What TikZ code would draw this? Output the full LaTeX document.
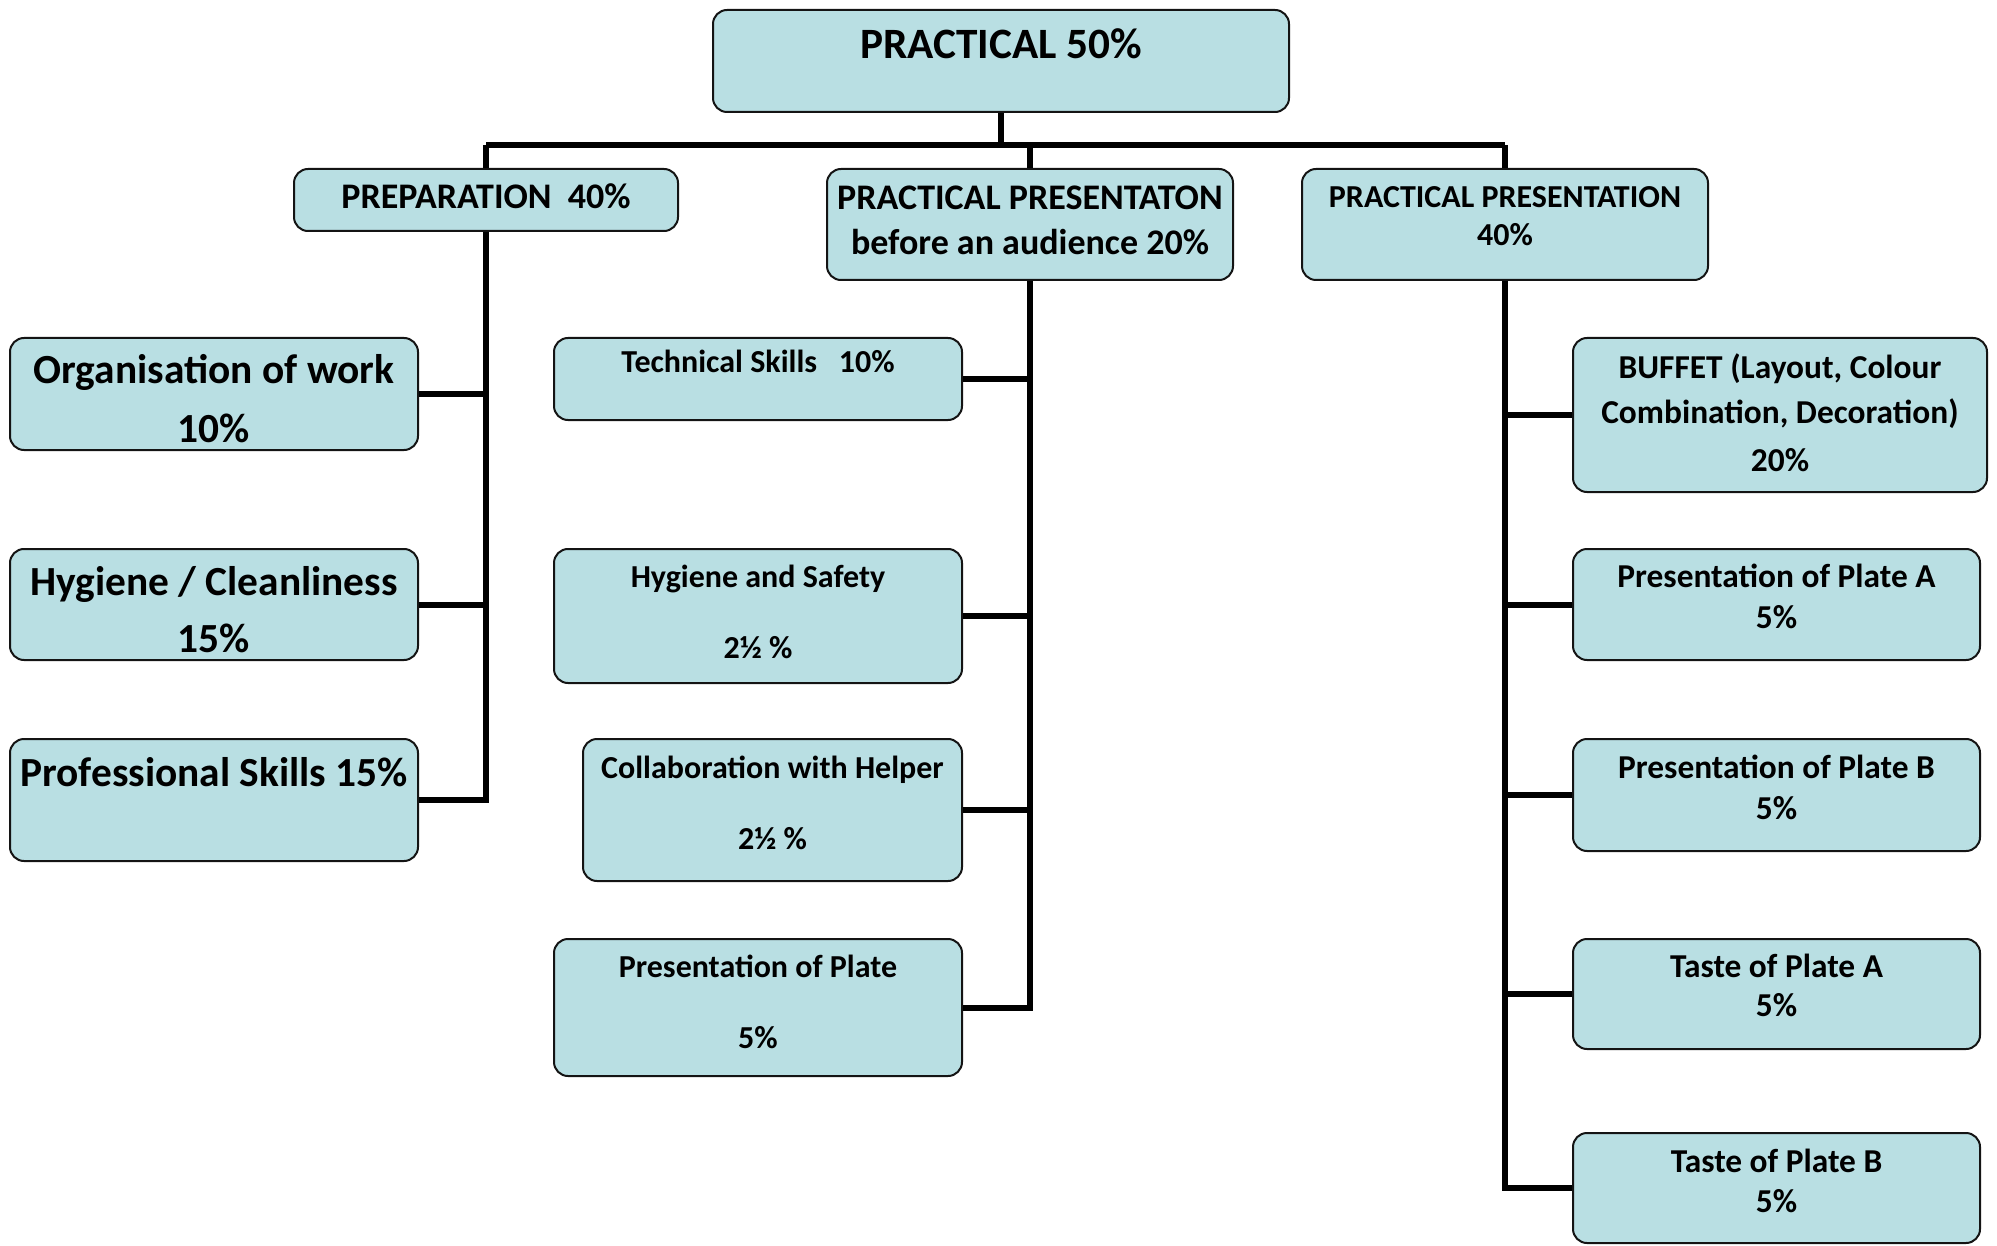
\documentclass[tikz,border=0pt]{standalone}
\usepackage{fontspec}
\setmainfont{Carlito}
\definecolor{boxfill}{RGB}{185,223,227}
\definecolor{boxline}{RGB}{20,20,20}
\tikzset{
  box/.style={draw=boxline, line width=2pt, fill=boxfill, rounded corners=14pt, inner sep=0pt},
  conn/.style={draw=black, line width=6pt, line join=miter},
  txt/.style={anchor=base, inner sep=0pt, font=\bfseries},
  fA/.style={font=\fontsize{43.3pt}{50pt}\selectfont\bfseries},
  fB/.style={font=\fontsize{36pt}{42pt}\selectfont\bfseries},
  fC/.style={font=\fontsize{41.4pt}{48pt}\selectfont\bfseries},
  fD/.style={font=\fontsize{32pt}{38pt}\selectfont\bfseries},
  fE/.style={font=\fontsize{33.4pt}{39pt}\selectfont\bfseries},
}
\begin{document}
\begin{tikzpicture}[x=1pt,y=-1pt]
\useasboundingbox (0,0) rectangle (1997,1246);

% boxes
\node[box, minimum width=576pt, minimum height=102pt] (top) at (1001,61) {};
\node[box, minimum width=384pt, minimum height=62pt] (prep) at (486,200) {};
\node[box, minimum width=406pt, minimum height=111pt] (mid) at (1030,224.5) {};
\node[box, minimum width=406pt, minimum height=111pt] (rtop) at (1505,224.5) {};

\node[box, minimum width=408pt, minimum height=112pt] (org) at (214,394) {};
\node[box, minimum width=408pt, minimum height=111pt] (hyg) at (214,604.5) {};
\node[box, minimum width=408pt, minimum height=122pt] (prof) at (214,800) {};

\node[box, minimum width=408pt, minimum height=82pt] (tech) at (758,379) {};
\node[box, minimum width=408pt, minimum height=134pt] (hs) at (758,616) {};
\node[box, minimum width=379pt, minimum height=142pt] (collab) at (772.5,810) {};
\node[box, minimum width=408pt, minimum height=137pt] (pplate) at (758,1007.5) {};

\node[box, minimum width=414pt, minimum height=154pt] (buffet) at (1780,415) {};
\node[box, minimum width=407pt, minimum height=111pt] (pa) at (1776.5,604.5) {};
\node[box, minimum width=407pt, minimum height=112pt] (pb) at (1776.5,795) {};
\node[box, minimum width=407pt, minimum height=110pt] (ta) at (1776.5,994) {};
\node[box, minimum width=407pt, minimum height=110pt] (tb) at (1776.5,1188) {};

% bus
\coordinate (bus) at (1002,145);
\draw[conn] (top.south) -- (top.south |- bus);
\draw[conn] (prep.north |- bus) -- (rtop.north |- bus);
\draw[conn] (prep.north |- bus) -- (prep.north);
\draw[conn] (mid.north |- bus) -- (mid.north);
\draw[conn] (rtop.north |- bus) -- (rtop.north);

% left branch
\draw[conn] (prep.south) |- (prof.east);
\draw[conn] (org.east) -- (org.east -| prep.south);
\draw[conn] (hyg.east) -- (hyg.east -| prep.south);

% middle branch
\draw[conn] (mid.south) |- (pplate.east);
\draw[conn] (tech.east) -- (tech.east -| mid.south);
\draw[conn] (hs.east) -- (hs.east -| mid.south);
\draw[conn] (collab.east) -- (collab.east -| mid.south);

% right branch
\draw[conn] (rtop.south) |- (tb.west);
\draw[conn] (buffet.west) -- (buffet.west -| rtop.south);
\draw[conn] (pa.west) -- (pa.west -| rtop.south);
\draw[conn] (pb.west) -- (pb.west -| rtop.south);
\draw[conn] (ta.west) -- (ta.west -| rtop.south);

% texts
\node[txt, fA] (tTop) at (1001,59) {PRACTICAL 50\%};
\node[txt, fB] (tPrep) at (486,208.5) {PREPARATION\ \ 40\%};
\node[txt, fB] (tMid1) at (1030,210) {PRACTICAL PRESENTATON};
\node[txt, fB] (tMid2) at (1030,255) {before an audience 20\%};
\node[txt, fD] (tR1) at (1505,207.6) {PRACTICAL PRESENTATION};
\node[txt, fD] (tR2) at (1505,245.8) {40\%};

\node[txt, fC] (tOrg1) at (214,383.7) {Organisation of work};
\node[txt, fC] (tOrg2) at (214,442.3) {10\%};
\node[txt, fC] (tHyg1) at (214,595) {Hygiene / Cleanliness};
\node[txt, fC] (tHyg2) at (214,652.4) {15\%};
\node[txt, fC] (tProf) at (214,786) {Professional Skills 15\%};

\node[txt, fD] (tTech) at (758,373) {Technical Skills\ \ \ 10\%};
\node[txt, fD] (tHs1) at (758,587) {Hygiene and Safety};
\node[txt, fD] (tHs2) at (758,658) {2½ \%};
\node[txt, fD] (tCol1) at (772.5,778) {Collaboration with Helper};
\node[txt, fD] (tCol2) at (772.5,849) {2½ \%};
\node[txt, fD] (tPp1) at (758,977) {Presentation of Plate};
\node[txt, fD] (tPp2) at (758,1048) {5\%};

\node[txt, fE] (tBuf1) at (1780,378) {BUFFET (Layout, Colour};
\node[txt, fE] (tBuf2) at (1780,424) {Combination, Decoration)};
\node[txt, fE] (tBuf3) at (1780,471) {20\%};
\node[txt, fE] (tPa1) at (1776.5,587) {Presentation of Plate A};
\node[txt, fE] (tPa2) at (1776.5,628) {5\%};
\node[txt, fE] (tPb1) at (1776.5,778) {Presentation of Plate B};
\node[txt, fE] (tPb2) at (1776.5,819) {5\%};
\node[txt, fE] (tTa1) at (1776.5,977) {Taste of Plate A};
\node[txt, fE] (tTa2) at (1776.5,1016) {5\%};
\node[txt, fE] (tTb1) at (1776.5,1172) {Taste of Plate B};
\node[txt, fE] (tTb2) at (1776.5,1212.5) {5\%};
\end{tikzpicture}
\end{document}
